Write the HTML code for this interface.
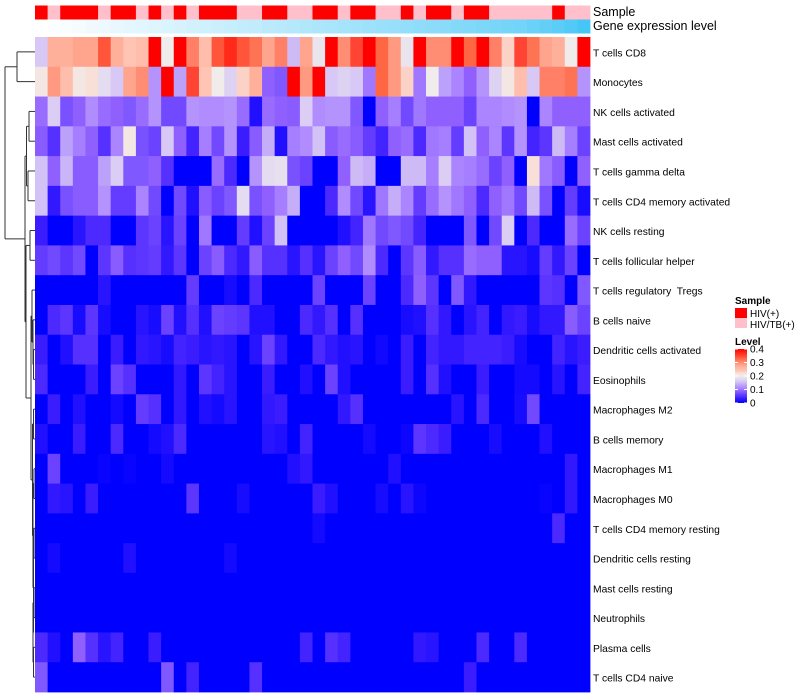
<!DOCTYPE html>
<html><head><meta charset="utf-8">
<style>
html,body{margin:0;padding:0;background:#fff;}
svg{display:block;font-family:"Liberation Sans",Arial,sans-serif;}
</style></head>
<body>
<svg id="chart" width="800" height="700" viewBox="0 0 800 700">
  <g id="dendro"></g>
  <g id="anno"></g>
  <g id="cells"></g>
  <g id="rowlabels"></g>
  <text x="593" y="16" font-size="12.5">Sample</text>
  <text x="593" y="30" font-size="12.5">Gene expression level</text>
  <g id="legend">
    <text x="735" y="304" font-size="10" font-weight="bold">Sample</text>
    <rect x="735" y="308" width="12" height="10" fill="#ff0000"/>
    <text x="750" y="317" font-size="10">HIV(+)</text>
    <rect x="735" y="318" width="12" height="10" fill="#ffc0cb"/>
    <text x="750" y="328" font-size="10">HIV/TB(+)</text>
    <text x="735" y="345" font-size="10" font-weight="bold">Level</text>
    <g id="cbar"></g>
  </g>
</svg>
<script>
const rowNames = ["T cells CD8","Monocytes","NK cells activated","Mast cells activated","T cells gamma delta","T cells CD4 memory activated","NK cells resting","T cells follicular helper","T cells regulatory  Tregs","B cells naive","Dendritic cells activated","Eosinophils","Macrophages M2","B cells memory","Macrophages M1","Macrophages M0","T cells CD4 memory resting","Dendritic cells resting","Mast cells resting","Neutrophils","Plasma cells","T cells CD4 naive"];
const sampleGroup = ["R","P","R","R","R","P","R","R","P","R","P","R","P","R","R","R","P","P","R","R","P","P","R","R","P","R","R","P","P","R","P","R","R","P","R","R","P","P","P","P","P","R","P","P"];
const geneExpr = [0.00,0.02,0.04,0.06,0.08,0.10,0.12,0.14,0.16,0.18,0.20,0.22,0.24,0.26,0.28,0.30,0.32,0.34,0.36,0.38,0.40,0.42,0.44,0.46,0.48,0.50,0.52,0.54,0.56,0.58,0.60,0.62,0.64,0.66,0.68,0.70,0.72,0.74,0.76,0.80,0.84,0.88,0.93,1.00];
const row0 = [0.16,0.27,0.27,0.28,0.28,0.34,0.27,0.24,0.25,0.4,0.2,0.4,0.31,0.25,0.34,0.37,0.34,0.32,0.28,0.31,0.15,0.28,0.19,0.4,0.3,0.35,0.4,0.33,0.29,0.19,0.4,0.3,0.3,0.4,0.33,0.4,0.31,0.23,0.35,0.32,0.28,0.27,0.2,0.4];
const row1 = [0.21,0.29,0.25,0.21,0.22,0.18,0.16,0.28,0.3,0.12,0.4,0.13,0.35,0.24,0.2,0.17,0.23,0.27,0.09,0.08,0.4,0.29,0.4,0.16,0.17,0.16,0.1,0.33,0.29,0.23,0.1,0.2,0.13,0.11,0.09,0.12,0.17,0.21,0.25,0.16,0.31,0.31,0.32,0.12];
const row2 = [0.095,0.165,0.075,0.09,0.115,0.095,0.09,0.08,0.095,0.12,0.07,0.07,0.12,0.115,0.115,0.12,0.095,0.02,0.095,0.09,0.085,0.165,0.115,0.12,0.12,0.08,0,0.09,0.105,0.07,0.1,0.09,0.09,0.09,0.065,0.11,0.11,0.115,0.12,0,0.11,0.09,0.09,0.09];
const row3 = [0.085,0.05,0.13,0.105,0.09,0.05,0.11,0.21,0.075,0.065,0.16,0.09,0.04,0.105,0.07,0.12,0.035,0.085,0.14,0.02,0.105,0.115,0.155,0.085,0.095,0.085,0.06,0.04,0.09,0.095,0.045,0.1,0.105,0.06,0.155,0.09,0.11,0.055,0.12,0.04,0.055,0.15,0.105,0.065];
const row4 = [0.155,0.09,0.145,0.085,0.085,0.13,0.165,0.08,0.08,0.09,0.05,0,0,0,0.095,0.045,0,0.12,0.18,0.185,0.075,0.065,0,0,0.09,0.15,0.14,0,0,0.15,0.15,0.105,0.165,0.11,0.105,0.095,0.065,0.09,0,0.22,0.1,0.085,0,0.09];
const row5 = [0.155,0.03,0.075,0.085,0.085,0.12,0.06,0.06,0.11,0.07,0,0.07,0.02,0.085,0.065,0.08,0.18,0.075,0.09,0.105,0.14,0,0,0.045,0.115,0.07,0.025,0.1,0.14,0.11,0.06,0.095,0.12,0.1,0.09,0.045,0.09,0.1,0.07,0.15,0.075,0,0.06,0.015];
const row6 = [0.035,0,0,0.025,0.045,0.045,0,0,0.055,0.065,0.025,0.065,0,0.1,0,0,0.06,0.02,0.065,0.155,0,0,0,0,0.02,0.04,0.1,0.07,0.08,0.07,0.04,0,0,0,0.08,0,0.07,0.165,0,0.045,0,0,0.095,0.065];
const row7 = [0.06,0.07,0.055,0.07,0,0.055,0.085,0.05,0.055,0.06,0.03,0.055,0,0.065,0.085,0.045,0.03,0.085,0.05,0.05,0.025,0.05,0.025,0.065,0.09,0.07,0.115,0.045,0,0.055,0.085,0.03,0.05,0.05,0.095,0.09,0.09,0.025,0.025,0.015,0.06,0.03,0.065,0];
const row8 = [0,0,0,0,0,0.025,0,0,0,0,0,0,0.06,0,0,0.015,0,0.045,0,0,0,0,0.065,0,0,0,0.065,0,0,0.045,0.09,0.055,0,0.08,0.03,0,0,0,0,0,0.055,0.05,0,0.08];
const row9 = [0,0.045,0.055,0.015,0.055,0.015,0,0,0.025,0.015,0.065,0.02,0.05,0.02,0.065,0.06,0.055,0.02,0.02,0,0,0.045,0.03,0.05,0,0.05,0,0,0,0.015,0.02,0.05,0.03,0,0.025,0.04,0,0.03,0.035,0.015,0.03,0.03,0.085,0.065];
const row10 = [0.035,0,0.02,0.05,0.05,0,0.035,0,0.03,0.025,0.015,0.04,0.035,0.025,0.03,0.025,0,0.025,0.065,0.03,0,0,0.045,0.03,0.02,0.025,0,0.01,0,0.035,0,0.04,0.03,0.03,0.04,0.04,0.04,0.035,0.015,0,0,0.04,0.025,0.035];
const row11 = [0.045,0,0,0,0.035,0,0.065,0.05,0,0,0,0.03,0,0.055,0.04,0.025,0,0,0.035,0,0,0.02,0,0.065,0.02,0,0,0,0,0.035,0,0.05,0.02,0,0,0.035,0,0,0.012,0.012,0,0.025,0,0.04];
const row12 = [0,0.035,0,0.02,0,0,0.012,0,0.06,0.05,0,0.03,0,0.02,0.012,0.025,0,0,0.03,0.035,0,0,0,0,0.03,0.05,0,0,0,0,0,0,0,0.025,0,0.045,0,0,0.015,0.07,0,0,0,0];
const row13 = [0.02,0,0,0.035,0,0,0.045,0,0,0.012,0.02,0.045,0,0,0,0,0,0,0.025,0.02,0,0.04,0,0,0,0,0.012,0,0,0.008,0.055,0.045,0.035,0,0,0,0.015,0,0,0,0.02,0,0,0];
const row14 = [0,0.065,0,0,0,0.005,0,0.005,0,0,0.012,0,0,0,0,0,0,0,0,0,0.02,0.03,0,0,0,0,0,0,0.02,0,0,0,0,0,0,0,0,0,0,0,0,0,0.03,0];
const row15 = [0,0.03,0.025,0,0.035,0,0,0,0,0,0,0,0.055,0,0,0,0.015,0,0,0,0,0,0.035,0.02,0,0,0,0.015,0,0.025,0.008,0,0,0,0,0,0,0,0,0,0.005,0,0.03,0];
const row16 = [0,0,0,0,0,0,0,0,0,0,0,0,0,0,0,0,0,0,0,0,0,0,0.012,0,0,0,0,0,0,0,0,0,0,0,0,0,0,0,0,0,0,0.045,0,0];
const row17 = [0,0.012,0,0,0,0,0,0.02,0,0,0,0,0,0,0,0.012,0,0,0,0,0,0,0,0,0,0,0,0,0,0,0,0,0,0,0,0,0,0,0,0,0,0,0,0];
const row18 = [0,0,0,0,0,0,0,0,0,0,0,0,0,0,0,0,0,0,0,0,0,0,0,0,0,0,0,0,0,0,0,0,0,0,0,0,0,0,0,0,0,0,0,0];
const row19 = [0,0,0,0,0,0,0,0,0,0,0,0,0,0,0,0,0,0,0,0,0,0,0,0,0,0,0,0,0,0,0,0,0,0,0,0,0,0,0,0,0,0,0,0];
const row20 = [0.045,0.02,0,0.09,0.05,0.025,0.04,0,0,0.035,0,0,0,0,0,0,0,0,0,0,0,0.04,0,0.05,0.04,0,0,0,0,0,0.03,0.025,0,0,0,0.045,0,0,0.045,0,0,0,0,0];
const row21 = [0.08,0,0,0,0,0,0,0,0,0,0.08,0,0.04,0,0,0,0,0.05,0,0,0,0,0,0,0,0,0,0,0,0,0,0,0,0,0.035,0,0,0,0,0,0,0,0,0];
const matrix = [row0,row1,row2,row3,row4,row5,row6,row7,row8,row9,row10,row11,row12,row13,row14,row15,row16,row17,row18,row19,row20,row21];
const legendTicks = [0,0.1,0.2,0.3,0.4];

const NS = "http://www.w3.org/2000/svg";
const X0 = 35, X1 = 590, Y0 = 37, Y1 = 692;
const nCols = row0.length, nRows = matrix.length;
const cw = (X1 - X0) / nCols, rh = (Y1 - Y0) / nRows;
function xPos(i){ return X0 + i * cw; }
function yPos(j){ return Y0 + j * rh; }

const stops = [[0,[0,0,255]],[0.02,[32,16,255]],[0.035,[58,28,255]],[0.05,[85,48,255]],[0.065,[106,66,255]],[0.08,[128,88,255]],[0.09,[144,96,255]],[0.1,[160,120,255]],[0.115,[176,140,255]],[0.135,[192,168,248]],[0.16,[216,200,245]],[0.18,[228,220,240]],[0.2,[240,236,236]],[0.22,[248,224,216]],[0.24,[255,196,180]],[0.27,[255,176,154]],[0.29,[255,154,128]],[0.31,[255,128,102]],[0.33,[255,102,68]],[0.35,[255,68,51]],[0.37,[255,42,26]],[0.4,[255,0,0]]];
function colorOf(v){
  if (v <= 0) return "rgb(0,0,255)";
  if (v >= 0.4) return "rgb(255,0,0)";
  for (let k=1;k<stops.length;k++){
    if (v <= stops[k][0]){
      const a=stops[k-1], b=stops[k], t=(v-a[0])/(b[0]-a[0]);
      const c=a[1].map((q,i)=>Math.round(q+(b[1][i]-q)*t));
      return "rgb("+c.join(",")+")";
    }
  }
}
function geneColor(v){
  const a=[255,255,255], b=[69,198,246];
  return "rgb("+a.map((q,i)=>Math.round(q+(b[i]-q)*v)).join(",")+")";
}

const cells = document.getElementById("cells");
matrix.forEach((row,j)=>{
  row.forEach((v,i)=>{
    const r=document.createElementNS(NS,"rect");
    r.setAttribute("x",xPos(i)); r.setAttribute("y",yPos(j));
    r.setAttribute("width",cw+0.4); r.setAttribute("height",rh+0.4);
    r.setAttribute("fill",colorOf(v));
    
    
    cells.appendChild(r);
  });
});

const anno = document.getElementById("anno");
sampleGroup.forEach((g,i)=>{
  const r=document.createElementNS(NS,"rect");
  r.setAttribute("x",xPos(i)); r.setAttribute("y",5.5);
  r.setAttribute("width",cw+0.4); r.setAttribute("height",14);
  r.setAttribute("fill", g==="R" ? "#ff0000" : "#ffc0cb");
  
  
  anno.appendChild(r);
});
geneExpr.forEach((v,i)=>{
  const r=document.createElementNS(NS,"rect");
  r.setAttribute("x",xPos(i)); r.setAttribute("y",19.5);
  r.setAttribute("width",cw+0.4); r.setAttribute("height",14);
  r.setAttribute("fill", geneColor(v));
  
  
  anno.appendChild(r);
});

const rl = document.getElementById("rowlabels");
rowNames.forEach((n,j)=>{
  const t=document.createElementNS(NS,"text");
  t.setAttribute("x",593); t.setAttribute("y",yPos(j)+rh/2+4.5);
  t.setAttribute("font-size","10.3");
  t.setAttribute("style","white-space:pre");
  t.textContent=n;
  
  
  rl.appendChild(t);
});

// dendrogram
const dendroTree = [5,[17,0,1],[25,[26.5,[29,2,3],[28,4,5]],[26,[30,6,7],[31,[32,8,[33,9,[33.5,10,11]]],[32.5,[33.5,12,13],[33,[34,14,15],[33.5,[34,16,17],[33,[34,18,19],[33.5,20,21]]]]]]]]];
const dg = document.getElementById("dendro");
function line(x1,y1,x2,y2){
  const l=document.createElementNS(NS,"line");
  l.setAttribute("x1",x1);l.setAttribute("y1",y1);l.setAttribute("x2",x2);l.setAttribute("y2",y2);
  l.setAttribute("stroke","#333");l.setAttribute("stroke-width","1");
  
  
  dg.appendChild(l);
}
function drawNode(n){
  if (typeof n === "number") return {x:X0, y:yPos(n)+rh/2};
  const h=n[0], a=drawNode(n[1]), b=drawNode(n[2]);
  line(h,a.y,a.x,a.y); line(h,b.y,b.x,b.y); line(h,a.y,h,b.y);
  return {x:h, y:(a.y+b.y)/2};
}
drawNode(dendroTree);

// colorbar
const cb = document.getElementById("cbar");
const cbTop=349, cbBot=403;
const defs=document.createElementNS(NS,"defs");
const lg=document.createElementNS(NS,"linearGradient");
lg.setAttribute("id","cbg");lg.setAttribute("x1","0");lg.setAttribute("y1","1");lg.setAttribute("x2","0");lg.setAttribute("y2","0");
stops.forEach(s=>{const st=document.createElementNS(NS,"stop");st.setAttribute("offset",s[0]/0.4);st.setAttribute("stop-color",colorOf(s[0]));lg.appendChild(st);});
defs.appendChild(lg);cb.appendChild(defs);
const cr=document.createElementNS(NS,"rect");
cr.setAttribute("x",735);cr.setAttribute("y",cbTop);cr.setAttribute("width",12);cr.setAttribute("height",cbBot-cbTop);cr.setAttribute("fill","url(#cbg)");


cb.appendChild(cr);
legendTicks.forEach(v=>{
  const y=cbBot-(v/0.4)*(cbBot-cbTop);
  [735,744].forEach(x=>{
    const l=document.createElementNS(NS,"line");
    l.setAttribute("x1",x);l.setAttribute("x2",x+3);l.setAttribute("y1",y);l.setAttribute("y2",y);
    l.setAttribute("stroke","#fff");l.setAttribute("stroke-width","1");
    
    
    cb.appendChild(l);
  });
  const t=document.createElementNS(NS,"text");
  t.setAttribute("x",750);t.setAttribute("y",y+3.5);t.setAttribute("font-size","10");
  t.textContent=String(v);
  
  
  cb.appendChild(t);
});
</script>
</body></html>
